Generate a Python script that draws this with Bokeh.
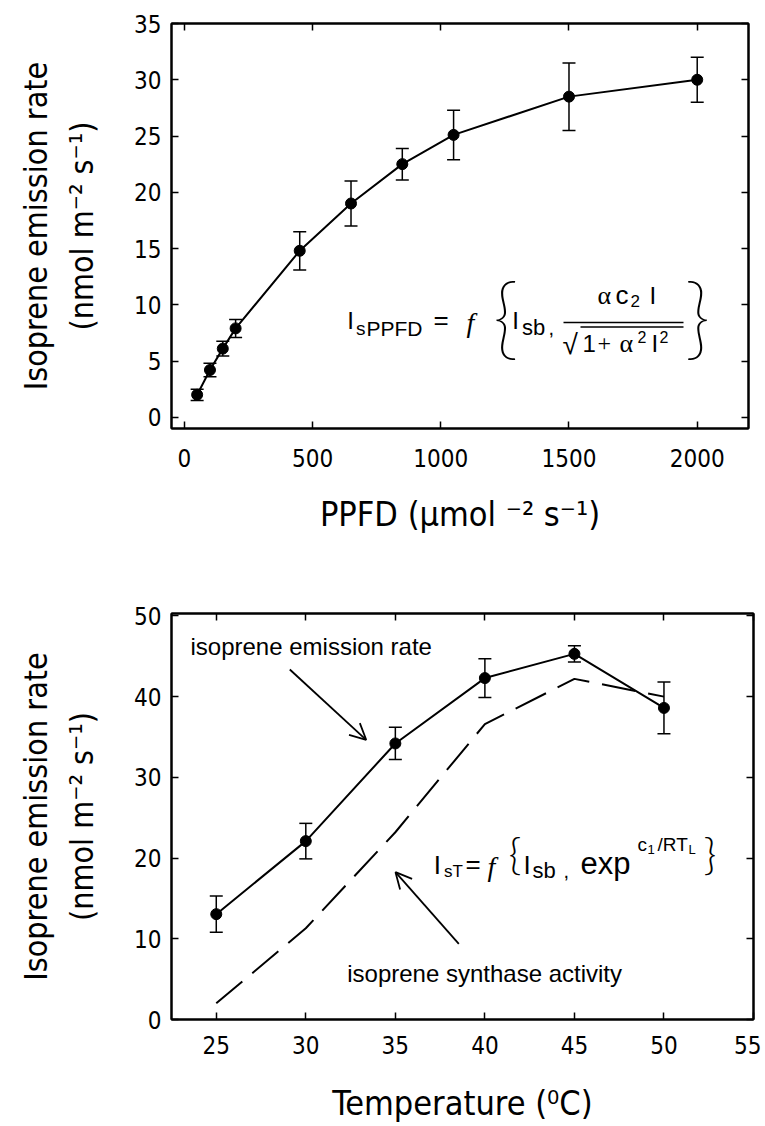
from bokeh.plotting import figure
from bokeh.models import (ColumnDataSource, Whisker, TeeHead, Arrow, OpenHead, Label,
                          LinearAxis, Range1d, FixedTicker, CustomJSTickFormatter)
from bokeh.layouts import column
from bokeh.embed import file_html
from bokeh.resources import INLINE

# ---------------- data ----------------
ppfd = [50, 100, 150, 200, 450, 650, 850, 1050, 1500, 2000]
ppfd_rate = [2.0, 4.2, 6.1, 7.9, 14.8, 19.0, 22.5, 25.1, 28.5, 30.0]
ppfd_err = [0.5, 0.6, 0.65, 0.8, 1.7, 2.0, 1.4, 2.2, 3.0, 2.0]

temp = [25, 30, 35, 40, 45, 50]
temp_rate = [13.05, 22.1, 34.2, 42.3, 45.3, 38.6]
temp_err = [2.25, 2.2, 2.0, 2.4, 1.0, 3.2]
synthase = [2.0, 11.3, 23.2, 36.6, 42.2, 40.0]

ppfd_ticks = [0, 500, 1000, 1500, 2000]
rate_ticks_top = [0, 5, 10, 15, 20, 25, 30, 35]
temp_ticks = [25, 30, 35, 40, 45, 50, 55]
rate_ticks_bot = [0, 10, 20, 30, 40, 50]

NARROW = "Liberation Sans Narrow, Arial Narrow, DejaVu Sans Condensed, sans-serif"
SANS = "Liberation Sans"
SERIF = "Liberation Serif"
BRACE = "Lato Thin, Lato Light, DejaVu Sans ExtraLight, Liberation Serif"
BRACE_S = "Lato Light, Lato, Liberation Serif"
YLABEL = "Isoprene emission rate\n(nmol m\u207b\u00b2 s\u207b\u00b9)"


def make_fig(xr, yr, fw, fh, bl, br, bt, bb, xt, yt, xlabel, xstand, xlstand):
    p = figure(frame_width=fw, frame_height=fh, x_range=Range1d(*xr), y_range=Range1d(*yr),
               output_backend="svg", toolbar_location=None,
               min_border_left=bl, min_border_right=br, min_border_top=bt, min_border_bottom=bb)
    p.xgrid.visible = False
    p.ygrid.visible = False
    p.outline_line_color = "black"
    p.outline_line_width = 2
    p.background_fill_color = "white"
    p.border_fill_color = "white"
    for ax, ticks in ((p.xaxis[0], xt), (p.yaxis[0], yt)):
        ax.ticker = FixedTicker(ticks=ticks)
        ax.major_tick_in = 7
        ax.major_tick_out = 0
        ax.major_tick_line_width = 1.5
        ax.minor_tick_line_color = None
        ax.axis_line_width = 2
        ax.major_label_text_font = NARROW
        ax.major_label_text_font_size = "24px"
        ax.major_label_text_color = "black"
        ax.axis_label_text_font = NARROW
        ax.axis_label_text_font_style = "normal"
        ax.axis_label_text_color = "black"
    p.xaxis[0].axis_label = xlabel
    p.xaxis[0].axis_label_text_font_size = "34px"
    p.xaxis[0].major_label_standoff = xstand
    p.xaxis[0].axis_label_standoff = xlstand
    p.yaxis[0].axis_label = YLABEL
    p.yaxis[0].axis_label_text_font_size = "32px"
    p.yaxis[0].major_label_standoff = 10
    p.yaxis[0].axis_label_standoff = 30
    for loc, ticks in (("above", xt), ("right", yt)):
        ax = LinearAxis(ticker=FixedTicker(ticks=ticks), major_tick_in=7, major_tick_out=0,
                        major_tick_line_width=1.5, minor_tick_line_color=None, axis_line_width=2,
                        formatter=CustomJSTickFormatter(code="return ''"),
                        major_label_text_font_size="8px", major_label_standoff=0)
        p.add_layout(ax, loc)
    return p


def converter(fl, ft, fw, fh, xr, yr):
    def conv(px, py):
        x = xr[0] + (px - fl) * (xr[1] - xr[0]) / fw
        y = yr[1] - (py - ft) * (yr[1] - yr[0]) / fh
        return x, y
    return conv


def lab(p, conv, px, py, text, size, font=SANS, style="normal", baseline="alphabetic"):
    if baseline == "alphabetic":
        py -= 0.28 * size
    x, y = conv(px, py)
    p.add_layout(Label(x=x, y=y, text=text, text_font=font, text_font_size=f"{size}px",
                       text_font_style=style, text_baseline=baseline, text_align="left",
                       text_color="black"))


LEFT = 171

# ---------------- top chart ----------------
TXR, TYR = (-50, 2200), (-1, 35)
TT, TW, TH = 23, 577, 405
top = make_fig(TXR, TYR, TW, TH, LEFT, 12, TT, 130, ppfd_ticks, rate_ticks_top,
               "PPFD (\u03bcmol \u207b\u00b2 s\u207b\u00b9)", 20, 24)
src1 = ColumnDataSource(dict(x=ppfd, y=ppfd_rate,
                             up=[v + e for v, e in zip(ppfd_rate, ppfd_err)],
                             lo=[v - e for v, e in zip(ppfd_rate, ppfd_err)]))
top.add_layout(Whisker(source=src1, base="x", upper="up", lower="lo", line_width=1.5,
                       upper_head=TeeHead(size=13, line_width=1.5),
                       lower_head=TeeHead(size=13, line_width=1.5)))
top.line("x", "y", source=src1, line_width=2, line_color="black")
top.scatter("x", "y", source=src1, size=11, fill_color="black", line_color="black")

tc = converter(LEFT, TT, TW, TH, TXR, TYR)
lab(top, tc, 346.7, 326.7, "I", 24)
lab(top, tc, 355.5, 333.5, "s", 19)
lab(top, tc, 366, 333.5, "PPFD", 21)
lab(top, tc, 433, 327, "=", 26)
lab(top, tc, 466, 330, "f", 28, SERIF, "italic")
lab(top, tc, 492, 313, "{", 90, BRACE, baseline="middle")
lab(top, tc, 511.7, 326.7, "I", 24)
lab(top, tc, 521.5, 333.5, "sb", 22)
lab(top, tc, 548, 333.5, ",", 20)
lab(top, tc, 597, 302, "\u03b1", 26, SERIF)
lab(top, tc, 615, 302, "c", 26)
lab(top, tc, 630, 305, "2", 17)
lab(top, tc, 649, 302, "I", 24)
lab(top, tc, 562, 352, "\u221a", 28)
lab(top, tc, 582, 350, "1", 24)
lab(top, tc, 597, 350, "+", 24, SERIF)
lab(top, tc, 619, 350, "\u03b1", 26, SERIF)
lab(top, tc, 637, 341, "2", 16)
lab(top, tc, 651, 350, "I", 24)
lab(top, tc, 659, 341, "2", 16)
lab(top, tc, 684, 313, "}", 90, BRACE, baseline="middle")
(fx0, fy), (fx1, _) = tc(563, 322), tc(683, 322)
top.segment(x0=[fx0], y0=[fy], x1=[fx1], y1=[fy], line_width=1.5, line_color="black")
(sx0, sy), (sx1, _) = tc(580, 326.5), tc(683, 326.5)
top.segment(x0=[sx0], y0=[sy], x1=[sx1], y1=[sy], line_width=1.5, line_color="black")

# ---------------- bottom chart ----------------
BXR, BYR = (22.5, 55), (0, 50.3)
BT, BW, BH = 55, 582, 406
bot = make_fig(BXR, BYR, BW, BH, LEFT, 8, BT, 100, temp_ticks, rate_ticks_bot,
               "Temperature (\u2070C)", 16, 26)
src2 = ColumnDataSource(dict(x=temp, y=temp_rate, s=synthase,
                             up=[v + e for v, e in zip(temp_rate, temp_err)],
                             lo=[v - e for v, e in zip(temp_rate, temp_err)]))
bot.line("x", "s", source=src2, line_width=2, line_color="black", line_dash="34 13")
bot.add_layout(Whisker(source=src2, base="x", upper="up", lower="lo", line_width=1.5,
                       upper_head=TeeHead(size=13, line_width=1.5),
                       lower_head=TeeHead(size=13, line_width=1.5)))
bot.line("x", "y", source=src2, line_width=2, line_color="black")
bot.scatter("x", "y", source=src2, size=11, fill_color="black", line_color="black")

bc = converter(LEFT, 613, BW, BH, BXR, BYR)
lab(bot, bc, 190, 652.3, "isoprene emission rate", 24)
lab(bot, bc, 346.7, 980, "isoprene synthase activity", 24)
for (x0, y0), (x1, y1) in (((289.3, 669), (365.7, 739.3)), ((458.3, 943.3), (395, 871.7))):
    a0, b0 = bc(x0, y0)
    a1, b1 = bc(x1, y1)
    bot.add_layout(Arrow(end=OpenHead(size=16, line_width=1.8), x_start=a0, y_start=b0,
                         x_end=a1, y_end=b1, line_width=1.8))

lab(bot, bc, 433.3, 871.7, "I", 26)
lab(bot, bc, 443.5, 876, "sT", 17)
lab(bot, bc, 465, 871, "=", 26)
lab(bot, bc, 487, 874, "f", 28, SERIF, "italic")
lab(bot, bc, 508, 852, "{", 44, BRACE_S, baseline="middle")
lab(bot, bc, 523, 871.7, "I", 26)
lab(bot, bc, 532, 876, "sb", 22)
lab(bot, bc, 563, 876, ",", 20)
lab(bot, bc, 580, 871.7, "exp", 31)
lab(bot, bc, 637, 849, "c", 19)
lab(bot, bc, 647, 853, "1", 13)
lab(bot, bc, 657, 849, "/RT", 19)
lab(bot, bc, 688, 853, "L", 13)
lab(bot, bc, 703, 852, "}", 44, BRACE_S, baseline="middle")

layout = column(top, bot, spacing=0)
open("out.html", "w").write(file_html(layout, INLINE))
